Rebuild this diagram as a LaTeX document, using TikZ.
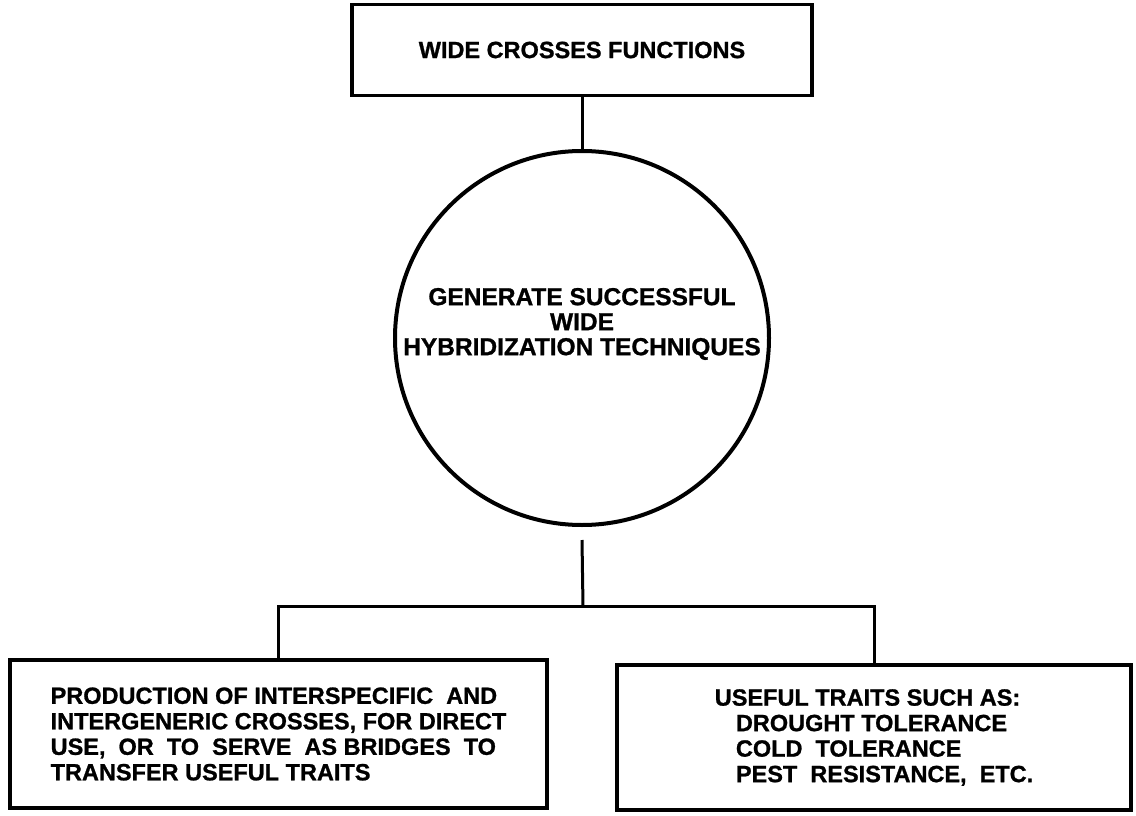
\documentclass[tikz,border=0pt]{standalone}
\usepackage{fontspec}
\setmainfont{Liberation Sans}[BoldFeatures={FakeBold=1}]
\begin{document}
\begin{tikzpicture}[x=1pt,y=-1pt,
  box/.style={draw, line width=3.5pt, inner sep=0pt},
  lbl/.style={font=\bfseries\fontsize{23.5}{25.5}\selectfont},
  conn/.style={line width=3pt}]
\useasboundingbox (0,0) rectangle (1136,816);
\node[box, lbl, minimum width=460pt, minimum height=91pt] (top) at (582,50) {WIDE CROSSES FUNCTIONS};
\node[circle, draw, line width=4pt, minimum size=374pt, inner sep=0pt] (circ) at (582,338) {};
\node[align=center, inner sep=0pt, font=\bfseries\fontsize{24.5}{25}\selectfont] (ctext) at (582,324)
  {GENERATE SUCCESSFUL\\WIDE\\HYBRIDIZATION TECHNIQUES};
\node[box, lbl, minimum width=537pt, minimum height=148pt, align=left] (lbox) at (278.5,734)
  {PRODUCTION OF INTERSPECIFIC\ \ AND\\INTERGENERIC CROSSES, FOR DIRECT\\USE,\ \ OR\ \ TO\ \ SERVE\ \ AS BRIDGES\ \ TO\\TRANSFER USEFUL TRAITS};
\node[box, lbl, minimum width=514pt, minimum height=145pt, align=left] (rbox) at (874,737.5)
  {USEFUL TRAITS SUCH AS:\\\hspace*{0.9em}DROUGHT TOLERANCE\\\hspace*{0.9em}COLD\ \ TOLERANCE\\\hspace*{0.9em}PEST\ \ RESISTANCE,\ \ ETC.};
\coordinate (j) at (583,606);
\draw[conn] (top.south) -- (circ.north);
\draw[conn] ([yshift=-13pt]circ.south) -- (j);
\draw[conn] (lbox.north) -- (lbox.north |- j) -- (rbox.north |- j) -- (rbox.north);
\end{tikzpicture}
\end{document}
